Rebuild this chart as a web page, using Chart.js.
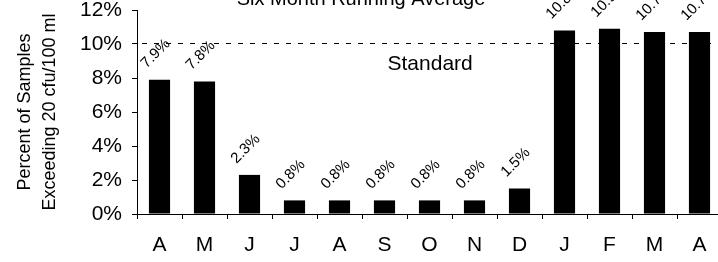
<!DOCTYPE html>
<html>
<head>
<meta charset="utf-8">
<script src="https://cdn.jsdelivr.net/npm/chart.js@4/dist/chart.umd.min.js"></script>
<style>
    html, body { margin: 0; padding: 0; background: #fff; overflow: hidden; }
    body { width: 718px; height: 262px; position: relative; }
    .chart { position: absolute; left: 0; top: -20px; width: 722px; height: 284px; }
</style>
</head>
<body>
<div class="chart"><canvas id="running"></canvas></div>
<script>
const months = ['A', 'M', 'J', 'J', 'A', 'S', 'O', 'N', 'D', 'J', 'F', 'M', 'A']
const percentExceeding = [7.9, 7.8, 2.3, 0.8, 0.8, 0.8, 0.8, 0.8, 1.5, 10.8, 10.9, 10.7, 10.7]
const yTicks = [0, 2, 4, 6, 8, 10, 12]
const standard = 10
const standardLabel = 'Standard'

Chart.defaults.font.family = '"Liberation Sans", Arial, sans-serif'
Chart.defaults.color = '#000'

// dashed standard line + its label, drawn under the bars
const standardLine = {
    id: 'standardLine',
    beforeDatasetsDraw(chart) {
        const {ctx, chartArea, scales: {x, y}} = chart
        const py = Math.round(y.getPixelForValue(standard)) - 0.5
        ctx.save()
        ctx.strokeStyle = '#000'
        ctx.lineWidth = 1
        ctx.setLineDash([5, 7])
        ctx.beginPath()
        ctx.moveTo(chartArea.left + 5, py)
        ctx.lineTo(chartArea.right, py)
        ctx.stroke()
        ctx.setLineDash([])
        ctx.font = '21px "Liberation Sans", Arial, sans-serif'
        ctx.fillStyle = '#000'
        ctx.textAlign = 'left'
        ctx.textBaseline = 'alphabetic'
        ctx.fillText(standardLabel, x.getPixelForValue(5) + 3, py + 26)
        ctx.restore()
    }
}

// slanted value labels above each bar
const barLabels = {
    id: 'barLabels',
    afterDatasetsDraw(chart) {
        const {ctx} = chart
        const meta = chart.getDatasetMeta(0)
        ctx.save()
        ctx.font = '15px "Liberation Sans", Arial, sans-serif'
        ctx.fillStyle = '#000'
        ctx.textAlign = 'left'
        ctx.textBaseline = 'alphabetic'
        meta.data.forEach((bar, i) => {
            ctx.save()
            ctx.translate(bar.x - 13, bar.y - 11)
            ctx.rotate(-Math.PI / 4)
            ctx.fillText(percentExceeding[i].toFixed(1) + '%', 0, 0)
            ctx.restore()
        })
        ctx.restore()
    }
}

new Chart(document.querySelector('canvas#running'), {
    type: 'bar',
    data: {
        labels: months,
        datasets: [{
            data: percentExceeding,
            backgroundColor: '#000',
            borderWidth: 0,
            barPercentage: 0.47,
            categoryPercentage: 1
        }]
    },
    options: {
        responsive: true,
        maintainAspectRatio: false,
        animation: false,
        layout: { padding: 0 },
        scales: {
            x: {
                grid: { drawOnChartArea: false, tickLength: 5, color: '#000', offset: true },
                border: { color: '#000' },
                ticks: { font: { size: 21 }, padding: 14, maxRotation: 0 },
                afterFit(scale) { scale.height = 50 }
            },
            y: {
                min: yTicks[0],
                max: yTicks[yTicks.length - 1],
                grid: { drawOnChartArea: false, tickLength: 5, color: '#000' },
                border: { color: '#000' },
                ticks: {
                    stepSize: yTicks[1] - yTicks[0],
                    font: { size: 21 },
                    padding: 10,
                    callback: v => v + '%'
                },
                title: {
                    display: true,
                    text: ['Percent of Samples', 'Exceeding 20 cfu/100 ml'],
                    font: { size: 18, lineHeight: 1.4 },
                    padding: { top: 12, bottom: 0 }
                },
                afterFit(scale) { scale.width = 137 }
            }
        },
        plugins: {
            legend: { display: false },
            tooltip: { enabled: false },
            title: {
                display: true,
                text: 'Six Month Running Average',
                font: { size: 20, weight: 'normal', lineHeight: 1.1 },
                padding: { top: 8, bottom: 0 }
            }
        }
    },
    plugins: [standardLine, barLabels]
})
</script>
</body>
</html>
